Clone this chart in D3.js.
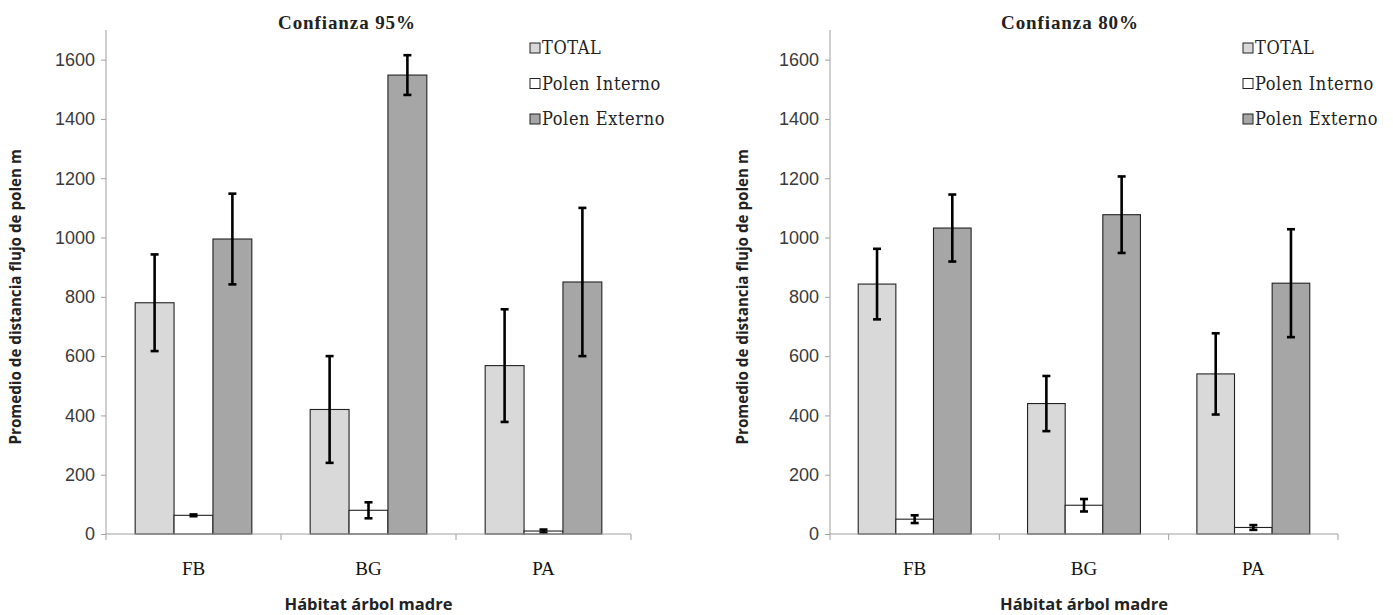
<!DOCTYPE html>
<html>
<head>
<meta charset="utf-8">
<script src="https://cdn.jsdelivr.net/npm/d3@7"></script>
<style>
  html, body { margin: 0; padding: 0; background: #fff; }
  svg { display: block; }
</style>
</head>
<body>
<div id="chart"></div>
<script>
const categorias = ["FB", "BG", "PA"];
const series = ["TOTAL", "Polen Interno", "Polen Externo"];
const colores = ["#d9d9d9", "#ffffff", "#a6a6a6"];
const yTicks = [0, 200, 400, 600, 800, 1000, 1200, 1400, 1600];

// confianza 95%
const total95 = [780, 420, 568];
const totalErr95 = [163, 180, 190];
const interno95 = [63, 80, 10];
const internoErr95 = [3, 27, 5];
const externo95 = [995, 1548, 850];
const externoErr95 = [153, 67, 250];

// confianza 80%
const total80 = [843, 440, 540];
const totalErr80 = [119, 93, 137];
const interno80 = [50, 97, 22];
const internoErr80 = [13, 21, 8];
const externo80 = [1032, 1077, 846];
const externoErr80 = [113, 129, 182];

const W = 1393, H = 615;
const svg = d3.select("#chart").append("svg").attr("width", W).attr("height", H);

function armarFilas(valores, errores) {
  const filas = [];
  categorias.forEach((cat, i) => {
    series.forEach((s, j) => {
      filas.push({ cat, serie: s, idx: j, valor: valores[j][i], err: errores[j][i] });
    });
  });
  return filas;
}

function dibujarPanel(cfg) {
  const g = svg.append("g");
  const x = d3.scaleBand().domain(categorias).range([cfg.x0, cfg.x1]);
  const bw = x.bandwidth();
  const gap = bw * 1.5 / 4.5;
  const xs = d3.scaleBand().domain(series).range([gap / 2, bw - gap / 2]);
  const y = d3.scaleLinear().domain([0, 1700]).range([534, 30]);

  // eje y
  const ejeY = g.append("g").attr("transform", `translate(${cfg.x0},0)`)
    .call(d3.axisLeft(y).tickValues(yTicks).tickSize(5).tickPadding(6).tickFormat(d3.format("d")));
  ejeY.select(".domain").attr("stroke", "#a0a0a0").attr("d", `M0,${y(1700)}V${y(0)}`);
  ejeY.selectAll(".tick line").attr("stroke", "#a0a0a0");
  ejeY.selectAll(".tick text").attr("font-family", "Liberation Sans, Arial, sans-serif")
    .attr("font-size", 18).attr("fill", "#3a3a3a");

  // barras
  const filas = armarFilas(cfg.valores, cfg.errores);
  g.selectAll("rect.bar").data(filas).join("rect").attr("class", "bar")
    .attr("x", d => x(d.cat) + xs(d.serie))
    .attr("y", d => y(d.valor))
    .attr("width", xs.bandwidth())
    .attr("height", d => y(0) - y(d.valor))
    .attr("fill", d => colores[d.idx])
    .attr("stroke", "#222").attr("stroke-width", 1.1);

  // barras de error
  const eb = g.selectAll("g.err").data(filas).join("g").attr("class", "err")
    .attr("transform", d => `translate(${x(d.cat) + xs(d.serie) + xs.bandwidth() / 2},0)`);
  eb.append("line").attr("y1", d => y(d.valor + d.err)).attr("y2", d => y(d.valor - d.err));
  eb.append("line").attr("x1", -4).attr("x2", 4).attr("y1", d => y(d.valor + d.err)).attr("y2", d => y(d.valor + d.err));
  eb.append("line").attr("x1", -4).attr("x2", 4).attr("y1", d => y(d.valor - d.err)).attr("y2", d => y(d.valor - d.err));
  eb.selectAll("line").attr("stroke", "#000").attr("stroke-width", 2.6);

  // eje x
  const ejeX = g.append("g").attr("transform", `translate(0,${y(0)})`);
  ejeX.append("line").attr("x1", cfg.x0).attr("x2", cfg.x1).attr("stroke", "#a0a0a0");
  const bordes = categorias.map(c => x(c)).concat([cfg.x1]);
  ejeX.selectAll("line.tk").data(bordes).join("line").attr("class", "tk")
    .attr("x1", d => d).attr("x2", d => d).attr("y1", 0).attr("y2", 6).attr("stroke", "#a0a0a0");
  ejeX.selectAll("text").data(categorias).join("text")
    .attr("x", d => x(d) + bw / 2).attr("y", 41)
    .attr("text-anchor", "middle")
    .attr("font-family", "Liberation Serif, Times New Roman, serif")
    .attr("font-size", 19).attr("fill", "#111").text(d => d);

  // titulos
  g.append("text").attr("x", cfg.tituloX).attr("y", 29).attr("text-anchor", "middle")
    .attr("font-family", "Liberation Serif, Times New Roman, serif").attr("font-weight", "bold")
    .attr("font-size", 19).attr("letter-spacing", 0.9).attr("fill", "#222").text(cfg.titulo);
  g.append("text").attr("x", (cfg.x0 + cfg.x1) / 2).attr("y", 610).attr("text-anchor", "middle")
    .attr("font-family", "Open Sans, sans-serif").attr("font-weight", "bold")
    .attr("font-size", 16.5).attr("fill", "#222").text("Hábitat árbol madre");
  g.append("text").attr("transform", `translate(${cfg.yTituloX},${(y(0) + y(1600)) / 2}) rotate(-90)`)
    .attr("text-anchor", "middle").attr("dy", "0.35em")
    .attr("font-family", "Open Sans, sans-serif").attr("font-weight", "bold")
    .attr("font-size", 15.2).attr("fill", "#222").text("Promedio de distancia flujo de polen m");

  // leyenda
  const ley = g.append("g").attr("transform", `translate(${cfg.leyX},0)`);
  const fila = ley.selectAll("g").data(series).join("g")
    .attr("transform", (d, i) => `translate(0,${48 + i * 35.5})`);
  fila.append("rect").attr("x", 0).attr("y", -5).attr("width", 10).attr("height", 10)
    .attr("fill", (d, i) => colores[i]).attr("stroke", "#222").attr("stroke-width", 1);
  fila.append("text").attr("x", 12).attr("dy", "0.36em")
    .attr("font-family", "DejaVu Serif Condensed, DejaVu Serif, serif")
    .attr("font-size", 18).attr("letter-spacing", 0.6).attr("fill", "#222").text(d => d);
}

dibujarPanel({
  x0: 106, x1: 631, titulo: "Confianza 95%", tituloX: 347, yTituloX: 16, leyX: 530,
  valores: [total95, interno95, externo95], errores: [totalErr95, internoErr95, externoErr95]
});
dibujarPanel({
  x0: 830, x1: 1338, titulo: "Confianza 80%", tituloX: 1070, yTituloX: 743, leyX: 1243,
  valores: [total80, interno80, externo80], errores: [totalErr80, internoErr80, externoErr80]
});
</script>
</body>
</html>
